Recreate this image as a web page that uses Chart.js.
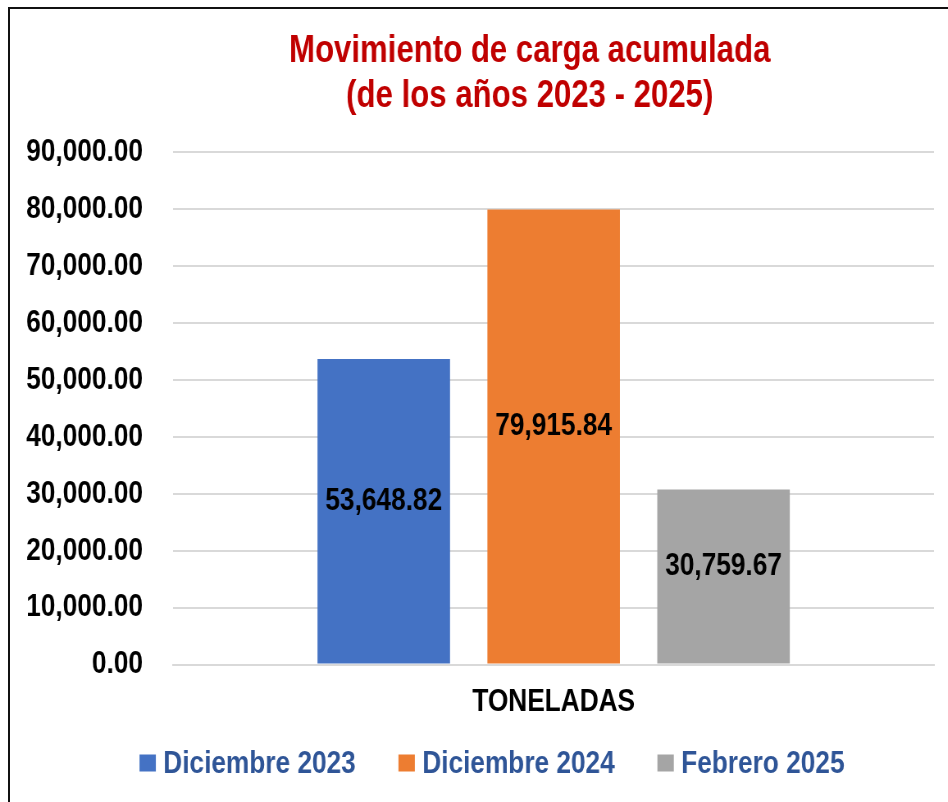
<!DOCTYPE html>
<html>
<head>
<meta charset="utf-8">
<script src="https://cdn.jsdelivr.net/npm/chart.js@4.4.1/dist/chart.umd.min.js"></script>
<style>
  html, body { margin: 0; padding: 0; background: #fff; overflow: hidden; }
  #frame {
    position: absolute; left: 8px; top: 7px;
    width: 1000px; height: 900px;
    border: 2px solid #111;
  }
  /* Arial Narrow look: draw with Liberation Sans and squeeze the canvas horizontally */
  #chart {
    position: absolute; left: 0; top: 0;
    transform: scaleX(0.82); transform-origin: 0 0;
  }
</style>
</head>
<body>
<div id="frame"></div>
<canvas id="chart" width="1156" height="802"></canvas>
<script>
const categories = ['TONELADAS'];
const seriesNames = ['Diciembre 2023', 'Diciembre 2024', 'Febrero 2025'];
const seriesValues = [[53648.82], [79915.84], [30759.67]];
const seriesColors = ['#4472c4', '#ed7d31', '#a5a5a5'];
const yTicks = { min: 0, max: 90000, step: 10000 };
const titleLines = ['Movimiento de carga acumulada', '(de los años 2023 - 2025)'];

const FONT = "'Liberation Sans', Arial, sans-serif";

const fmt = v => v.toLocaleString('en-US', { minimumFractionDigits: 2, maximumFractionDigits: 2 });

// title sits right of the canvas centre in the original, so draw it here
const offsetTitle = {
    id: 'offsetTitle',
    afterDraw(chart) {
        const ctx = chart.ctx;
        ctx.save();
        ctx.font = 'bold 38px ' + FONT;
        ctx.fillStyle = '#c00000';
        ctx.textAlign = 'center';
        ctx.textBaseline = 'middle';
        ctx.fillText(titleLines[0], 646, 52);
        ctx.fillText(titleLines[1], 646, 97);
        ctx.restore();
    }
};

// value in the middle of each bar
const barValues = {
    id: 'barValues',
    afterDatasetsDraw(chart) {
        const ctx = chart.ctx;
        ctx.save();
        ctx.font = 'bold 32px ' + FONT;
        ctx.fillStyle = '#000';
        ctx.textAlign = 'center';
        ctx.textBaseline = 'middle';
        chart.data.datasets.forEach((ds, i) => {
            chart.getDatasetMeta(i).data.forEach((bar, j) => {
                ctx.fillText(fmt(ds.data[j]), bar.x, (bar.y + bar.base) / 2 - 10);
            });
        });
        ctx.restore();
    }
};

// legend row under the axis (built-in legend ties item gap to vertical padding)
const bottomLegend = {
    id: 'bottomLegend',
    afterDraw(chart) {
        const ctx = chart.ctx;
        const box = 20, gap = 9, itemGap = 52, y = 763;
        ctx.save();
        ctx.font = 'bold 32px ' + FONT;
        ctx.textBaseline = 'middle';
        const items = chart.data.datasets.map(ds => ({ text: ds.label, color: ds.backgroundColor, w: ctx.measureText(ds.label).width }));
        const total = items.reduce((s, it) => s + box + gap + it.w, 0) + itemGap * (items.length - 1);
        let x = chart.width / 2 + 22 - total / 2;
        items.forEach(it => {
            ctx.fillStyle = it.color;
            ctx.fillRect(x, y - 8.5, box, 17);
            x += box + gap;
            ctx.fillStyle = '#2f5597';
            ctx.fillText(it.text, x, y + 1);
            x += it.w + itemGap;
        });
        ctx.restore();
    }
};

new Chart(document.getElementById('chart'), {
    type: 'bar',
    data: {
        labels: categories,
        datasets: seriesNames.map((name, i) => ({
            label: name,
            data: seriesValues[i],
            backgroundColor: seriesColors[i],
            barPercentage: 0.78,
            categoryPercentage: 0.67
        }))
    },
    options: {
        responsive: false,
        animation: false,
        layout: { padding: { left: -5, right: 17, top: 152, bottom: 63 } },
        plugins: {
            title: { display: false },
            legend: { display: false },
            tooltip: { enabled: false }
        },
        scales: {
            x: {
                grid: { display: false, drawTicks: false },
                border: { display: true, color: '#d9d9d9', width: 2 },
                ticks: { color: '#000', font: { family: FONT, size: 32, weight: 'bold' }, padding: 18 }
            },
            y: {
                min: yTicks.min,
                max: yTicks.max,
                border: { display: false },
                grid: { color: '#d9d9d9', lineWidth: 2, drawTicks: false },
                ticks: {
                    stepSize: yTicks.step,
                    color: '#000',
                    padding: 37,
                    font: { family: FONT, size: 32, weight: 'bold' },
                    callback: v => fmt(v)
                }
            }
        }
    },
    plugins: [barValues, bottomLegend, offsetTitle]
});
</script>
</body>
</html>
